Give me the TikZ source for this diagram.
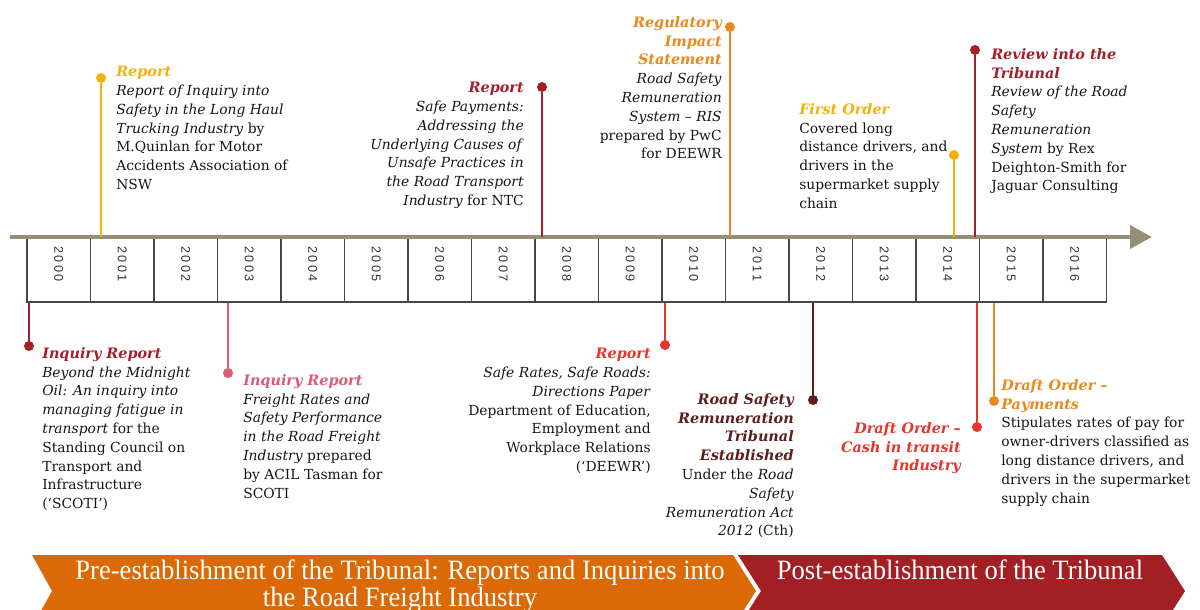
\documentclass[tikz,border=0pt]{standalone}
\usepackage{fontspec}
\setmainfont{DejaVu Serif}
\newfontfamily\yrfont[LetterSpace=20]{Liberation Sans}
\newfontfamily\bnfont[FakeStretch=0.95]{Liberation Serif}
\usetikzlibrary{arrows.meta}
\definecolor{cyel}{HTML}{F3B10D}
\definecolor{cdred}{HTML}{A3202A}
\definecolor{corg}{HTML}{E8891E}
\definecolor{cpink}{HTML}{DE5A73}
\definecolor{cred}{HTML}{E4362A}
\definecolor{cbrown}{HTML}{5E1E1E}
\definecolor{ctext}{HTML}{161616}
\definecolor{cbox}{HTML}{474747}
\definecolor{cyear}{HTML}{333333}
\definecolor{caxis}{HTML}{968E76}
\definecolor{bnorange}{HTML}{DB6A06}
\definecolor{bnred}{HTML}{A21F24}
\newcommand{\hd}[2]{{\color{#1}\fontsize{10.8}{14.1}\selectfont\bfseries\itshape #2}}
\tikzset{
  txt/.style={inner sep=0pt, font=\fontsize{10.4}{14.1}\selectfont, text=ctext},
  lt/.style={txt, align=left, anchor=north west},
  rt/.style={txt, align=right, anchor=north east},
  dot/.style={circle, fill=#1, inner sep=0pt, minimum size=7.5pt},
  stem/.style={draw=#1, line width=1.1pt},
  yearbox/.style={draw=cbox, line width=1.4pt, minimum width=47.6pt, minimum height=48.75pt, inner sep=0pt},
  yeartxt/.style={font=\yrfont\fontsize{9.5}{10}\selectfont, text=cyear, rotate=-90, inner sep=0pt},
  axisline/.style={draw=caxis, line width=3.5pt, -{Triangle[length=16.5pt,width=17pt]}},
  bantxt/.style={font=\bnfont\fontsize{21}{20.25}\selectfont, text=white, align=center, anchor=north, inner sep=0pt},
}
\begin{document}
\begin{tikzpicture}[x=0.75pt,y=-0.75pt]
\useasboundingbox (0,0) rectangle (1200,610);
\clip (0,0) rectangle (1200,610);

% year boxes
\foreach \i in {0,...,16}{
  \pgfmathsetmacro\cx{58.75+63.5*\i}
  \pgfmathtruncatemacro\yr{2000+\i}
  \node[yearbox] (y\yr) at (\cx,269.5) {};
  \node[yeartxt] (l\yr) at (\cx,264) {\yr};
}

% axis
\coordinate (axs) at (10,237);
\coordinate (axe) at (1152,237);
\draw[axisline] (axs) -- (axe);

% top markers
\coordinate (a1) at (101,237);
\node[dot=cyel] (d1) at (101,78) {};
\draw[stem=cyel] (d1) -- (a1);

\coordinate (a2) at (542,237);
\node[dot=cdred] (d2) at (542,87) {};
\draw[stem=cdred] (d2) -- (a2);

\coordinate (a3) at (730,237);
\node[dot=corg] (d3) at (730,27) {};
\draw[stem=corg] (d3) -- (a3);

\coordinate (a4) at (954,237);
\node[dot=cyel] (d4) at (954,155) {};
\draw[stem=cyel] (d4) -- (a4);

\coordinate (a5) at (975,237);
\node[dot=cdred] (d5) at (975,50) {};
\draw[stem=cdred] (d5) -- (a5);

% bottom markers
\coordinate (b6) at (29,303);
\node[dot=cdred] (d6) at (29,346) {};
\draw[stem=cdred] (b6) -- (d6);

\coordinate (b7) at (228,303);
\node[dot=cpink] (d7) at (228,373) {};
\draw[stem=cpink] (b7) -- (d7);

\coordinate (b8) at (665,303);
\node[dot=cred] (d8) at (665,345) {};
\draw[stem=cred] (b8) -- (d8);

\coordinate (b9) at (813,303);
\node[dot=cbrown] (d9) at (813,400) {};
\draw[stem=cbrown] (b9) -- (d9);

\coordinate (b10) at (977,303);
\node[dot=cred] (d10) at (977,427) {};
\draw[stem=cred] (b10) -- (d10);

\coordinate (b11) at (994,303);
\node[dot=corg] (d11) at (994,401) {};
\draw[stem=corg] (b11) -- (d11);

% top texts
\node[lt] (t1) at (116,66) {\hd{cyel}{Report}\\ \textit{Report of Inquiry into}\\ \textit{Safety in the Long Haul}\\ \textit{Trucking Industry} by\\ M.Quinlan for Motor\\ Accidents Association of\\ NSW};

\node[rt] (t2) at (524,82) {\hd{cdred}{Report}\\ \textit{Safe Payments:}\\ \textit{Addressing the}\\ \textit{Underlying Causes of}\\ \textit{Unsafe Practices in}\\ \textit{the Road Transport}\\ \textit{Industry} for NTC};

\node[rt] (t3) at (722,16) {\hd{corg}{Regulatory}\\ \hd{corg}{Impact}\\ \hd{corg}{Statement}\\ \textit{Road Safety}\\ \textit{Remuneration}\\ \textit{System – RIS}\\ prepared by PwC\\ for DEEWR};

\node[lt] (t4) at (799,103) {\hd{cyel}{First Order}\\ Covered long\\ distance drivers, and\\ drivers in the\\ supermarket supply\\ chain};

\node[lt] (t5) at (991,48) {\hd{cdred}{Review into the}\\ \hd{cdred}{Tribunal}\\ \textit{Review of the Road}\\ \textit{Safety}\\ \textit{Remuneration}\\ \textit{System} by Rex\\ Deighton-Smith for\\ Jaguar Consulting};

% bottom texts
\node[lt] (t6) at (42,347) {\hd{cdred}{Inquiry Report}\\ \textit{Beyond the Midnight}\\ \textit{Oil: An inquiry into}\\ \textit{managing fatigue in}\\ \textit{transport} for the\\ Standing Council on\\ Transport and\\ Infrastructure\\ (‘SCOTI’)};

\node[lt] (t7) at (243,374) {\hd{cpink}{Inquiry Report}\\ \textit{Freight Rates and}\\ \textit{Safety Performance}\\ \textit{in the Road Freight}\\ \textit{Industry} prepared\\ by ACIL Tasman for\\ SCOTI};

\node[rt] (t8) at (651,348) {\hd{cred}{Report}\\ \textit{Safe Rates, Safe Roads:}\\ \textit{Directions Paper}\\ Department of Education,\\ Employment and\\ Workplace Relations\\ (‘DEEWR’)};

\node[rt] (t9) at (794,393) {\hd{cbrown}{Road Safety}\\ \hd{cbrown}{Remuneration}\\ \hd{cbrown}{Tribunal}\\ \hd{cbrown}{Established}\\ Under the \textit{Road}\\ \textit{Safety}\\ \textit{Remuneration Act}\\ \textit{2012} (Cth)};

\node[rt] (t10) at (961,422) {\hd{cred}{Draft Order –}\\ \hd{cred}{Cash in transit}\\ \hd{cred}{Industry}};

\node[lt] (t11) at (1001,379) {\hd{corg}{Draft Order –}\\ \hd{corg}{Payments}\\ Stipulates rates of pay for\\ owner-drivers classified as\\ long distance drivers, and\\ drivers in the supermarket\\ supply chain};

% banners
\fill[bnorange] (32,555) -- (733,555) -- (756,591) -- (733,627) -- (32,627) -- (52,591) -- cycle;
\fill[bnred] (738,555) -- (1162,555) -- (1185,591) -- (1162,627) -- (738,627) -- (761,591) -- cycle;
\node[bantxt] (bn1) at (400,560) {Pre-establishment of the Tribunal: Reports and Inquiries into\\ the Road Freight Industry};
\node[bantxt] (bn2) at (960,560) {Post-establishment of the Tribunal};
\end{tikzpicture}
\end{document}
